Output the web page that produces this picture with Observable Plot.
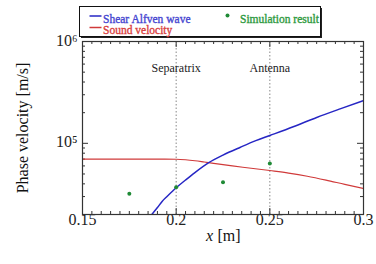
<!DOCTYPE html>
<html>
<head>
<meta charset="utf-8">
<script src="https://cdn.jsdelivr.net/npm/d3@7"></script>
<script src="https://cdn.jsdelivr.net/npm/@observablehq/plot@0.6"></script>
<style>
  body { margin: 0; background: #fff; }
</style>
</head>
<body>
<div id="wrap"></div>
<script>
// ---- data ----
const alfvenX = [0.187, 0.19, 0.1925, 0.195, 0.2, 0.205, 0.21, 0.2174, 0.225, 0.2343, 0.2425, 0.25, 0.2625, 0.275, 0.2875, 0.3];
const alfvenV = [20000, 23400, 26900, 29900, 36600, 43600, 51600, 64600, 76700, 91600, 106200, 119400, 145500, 179500, 218000, 263000];
const soundX = [0.15, 0.16, 0.17, 0.18, 0.19, 0.2, 0.205, 0.21, 0.215, 0.22, 0.23, 0.24, 0.25, 0.26, 0.27, 0.28, 0.29, 0.3];
const soundV = [70000, 70000, 70000, 70000, 70000, 69800, 69000, 67500, 65500, 63500, 60000, 57000, 54000, 51000, 47500, 43500, 39500, 36000];
const simX = [0.175, 0.2, 0.225, 0.25];
const simV = [32000, 37000, 41500, 63500];
const markerX = [0.2, 0.25];
const markerLabels = ["Separatrix", "Antenna"];
const xTicks = [0.15, 0.2, 0.25, 0.3];
const xTickLabels = ["0.15", "0.2", "0.25", "0.3"];
const yTicks = [1e5, 1e6];
const yTickLabels = ["10\u2075", "10\u2076"];
const seriesNames = ["Shear Alfven wave", "Sound velocity", "Simulation result"];
const seriesColors = ["#2626c4", "#d03a3a", "#1f8a36"];
const legendTextColors = ["#4646d0", "#d84040", "#2e9a40"];
const xLabel = ["x", "[m]"];
const yLabel = "Phase velocity [m/s]";

// ---- derived tables ----
const alfven = alfvenX.map((x, i) => ({x, v: alfvenV[i]}));
const sound = soundX.map((x, i) => ({x, v: soundV[i]}));
const sim = simX.map((x, i) => ({x, v: simV[i]}));
const markers = markerX.map((x, i) => ({x, label: markerLabels[i]}));
const yLab = yTicks.map((v, i) => ({v, label: yTickLabels[i]}));
const xLab = xTicks.map((x, i) => ({x, label: xTickLabels[i]}));
const xMinor = d3.range(0, 31).map(i => +(0.15 + i * 0.005).toFixed(3)).filter(d => !xTicks.includes(d));
const yMinor = [];
for (const dec of [1e4, 1e5]) for (let k = 2; k <= 9; k++) if (k * dec >= 2e4) yMinor.push(k * dec);

const W = 376, H = 264, mL = 82, mR = 13, mT = 41, mB = 50;
const iw = W - mL - mR, ih = H - mT - mB;
const tickCol = "#333";
const FONT = "'Liberation Serif', 'Times New Roman', serif";

const chart = Plot.plot({
  width: W, height: H,
  marginLeft: mL, marginRight: mR, marginTop: mT, marginBottom: mB,
  style: {fontFamily: FONT, fontSize: "16px", color: "#111", background: "#fff", overflow: "visible"},
  x: {domain: [0.15, 0.3], axis: null},
  y: {type: "log", domain: [2e4, 1e6], axis: null},
  marks: [
    Plot.ruleX(markerX, {x: d => d, stroke: "#888", strokeWidth: 1, strokeDasharray: "1.5,2"}),
    Plot.text(markers, {x: "x", text: "label", frameAnchor: "top", dy: 22, fontSize: 12, fill: "#222"}),
    // inward ticks, bottom and top
    Plot.ruleX(xMinor, {x: d => d, insetTop: ih - 3, stroke: tickCol}),
    Plot.ruleX(xMinor, {x: d => d, insetBottom: ih - 3, stroke: tickCol}),
    Plot.ruleX(xTicks, {x: d => d, insetTop: ih - 6, stroke: tickCol}),
    Plot.ruleX(xTicks, {x: d => d, insetBottom: ih - 6, stroke: tickCol}),
    // inward ticks, left and right
    Plot.ruleY(yMinor, {y: d => d, insetRight: iw - 3, stroke: tickCol}),
    Plot.ruleY(yMinor, {y: d => d, insetLeft: iw - 3, stroke: tickCol}),
    Plot.ruleY(yTicks, {y: d => d, insetRight: iw - 6, stroke: tickCol}),
    Plot.ruleY(yTicks, {y: d => d, insetLeft: iw - 6, stroke: tickCol}),
    // tick labels
    Plot.text(xLab, {x: "x", text: "label", frameAnchor: "bottom", lineAnchor: "top", dy: -1, fontSize: 16, fill: "#222"}),
    Plot.text(yLab, {y: "v", text: "label", frameAnchor: "left", textAnchor: "end", dx: -5, dy: -1, fontSize: 16, fill: "#222"}),
    Plot.line(sound, {x: "x", y: "v", stroke: seriesColors[1], strokeWidth: 1.1, curve: "monotone-x", clip: true}),
    Plot.line(alfven, {x: "x", y: "v", stroke: seriesColors[0], strokeWidth: 1.5, curve: "monotone-x", clip: true}),
    Plot.dot(sim, {x: "x", y: "v", r: 2, fill: seriesColors[2], stroke: "none"}),
    Plot.frame({stroke: "#333", strokeWidth: 1.2}),
    Plot.text([yLabel], {frameAnchor: "left", textAnchor: "middle", dx: -60, rotate: -90, fontSize: 16, fill: "#111"}),
    Plot.text([xLabel[0]], {frameAnchor: "bottom", dy: 26, dx: -13.5, fontSize: 16, fontStyle: "italic", fill: "#111"}),
    Plot.text([xLabel[1]], {frameAnchor: "bottom", dy: 26, dx: 6, fontSize: 16, fill: "#111"}),
    // legend texts (positioned in the top margin, relative to the frame's top-left corner)
    Plot.text([seriesNames[0]], {frameAnchor: "top-left", textAnchor: "start", dx: 20.5, dy: -27, fontSize: 11.5, fill: legendTextColors[0], stroke: legendTextColors[0], strokeWidth: 0.35}),
    Plot.text([seriesNames[1]], {frameAnchor: "top-left", textAnchor: "start", dx: 20.5, dy: -15.5, fontSize: 11.5, fill: legendTextColors[1], stroke: legendTextColors[1], strokeWidth: 0.35}),
    Plot.text([seriesNames[2]], {frameAnchor: "top-left", textAnchor: "start", dx: 157.5, dy: -27, fontSize: 11.5, fill: legendTextColors[2], stroke: legendTextColors[2], strokeWidth: 0.35})
  ]
});

document.getElementById("wrap").appendChild(chart);

// legend box and swatches drawn into the SVG, beneath the legend texts
const svg = d3.select(chart);
const g = svg.insert("g", ":scope > :last-child");
const texts = svg.selectAll(":scope > g[aria-label='text']").nodes();
const firstLegendText = texts[texts.length - 3];
const bx = 79.5, by = 6.5, bw = 241, bh = 30;
svg.node().insertBefore(g.node(), firstLegendText);
g.append("rect").attr("x", bx + 1.5).attr("y", by + 1.5).attr("width", bw).attr("height", bh).attr("fill", "#222");
g.append("rect").attr("x", bx).attr("y", by).attr("width", bw).attr("height", bh).attr("fill", "#fff").attr("stroke", "#111").attr("stroke-width", 1);
const swatches = [
  {kind: "line", mx: 10, my: 9.5, i: 0},
  {kind: "line", mx: 10, my: 21, i: 1},
  {kind: "dot", mx: 148, my: 9, i: 2}
];
for (const it of swatches) {
  if (it.kind === "line") {
    g.append("line").attr("x1", bx + it.mx).attr("x2", bx + it.mx + 12)
      .attr("y1", by + it.my).attr("y2", by + it.my)
      .attr("stroke", seriesColors[it.i]).attr("stroke-width", 1.5);
  } else {
    g.append("circle").attr("cx", bx + it.mx).attr("cy", by + it.my).attr("r", 2).attr("fill", seriesColors[it.i]);
  }
}
</script>
</body>
</html>
